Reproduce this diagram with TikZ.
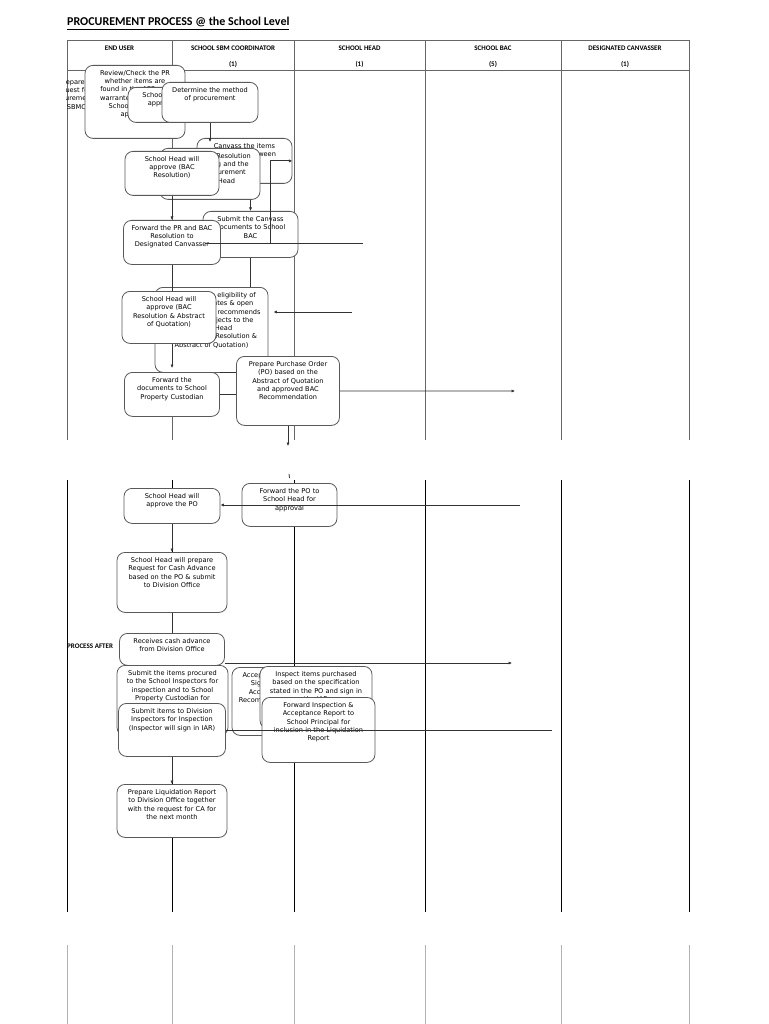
\documentclass[tikz,border=0pt]{standalone}
\usepackage{fontspec}
\setmainfont{Carlito}
\newfontfamily\boxfont{DejaVu Sans}
\usetikzlibrary{arrows.meta, positioning}

\begin{document}
\begin{tikzpicture}[
    x=1pt, y=-1pt,
    every node/.style = {inner sep=0pt},
    box/.style  = {rectangle, rounded corners=8pt, draw=black!65, line width=0.8pt,
                   fill=white, align=center, anchor=north, inner xsep=1pt,
                   inner ysep=4pt, text height=6pt,
                   font=\boxfont\fontsize{6.6}{8.3}\selectfont},
    head/.style = {font=\bfseries\fontsize{7}{9}\selectfont},
    col/.style  = {line width=0.8pt, black!60},
    colb/.style = {line width=0.9pt, black},
    colc/.style = {line width=0.8pt, black!30},
    line/.style = {line width=0.8pt, black!80},
    arr/.style  = {line, -{Latex[length=3.5pt, width=3.2pt]}}
  ]
  \useasboundingbox (0,0) rectangle (768,1024);

  % title and table
  \node[anchor=base west, font=\bfseries\fontsize{12}{14}\selectfont] (title) at (67,26)
    {\underline{PROCUREMENT PROCESS @ the School Level}};
  \draw[col] (67,40) -- (689,40);
  \draw[col] (67,70) -- (689,70);
  \foreach \x in {67,172,294,425,561,689}
    \draw[col] (\x,40) -- (\x,440);
  \foreach \x in {67,172,294,425,561,689}
    \draw[colb] (\x,480) -- (\x,912);
  \foreach \x in {67,172,294,425,561,689}
    \draw[colc] (\x,945) -- (\x,1024);

  \node[head] (hu) at (119.5,48) {END USER};
  \node[head] (hs) at (233,48) {SCHOOL SBM COORDINATOR};
  \node[head] (hh) at (359.5,48) {SCHOOL HEAD};
  \node[head] (hb) at (493,48) {SCHOOL BAC};
  \node[head] (hc) at (625,48) {DESIGNATED CANVASSER};
  \node[head] (ns) at (233,64) {(1)};
  \node[head] (nh) at (359.5,64) {(1)};
  \node[head] (nb) at (493,64) {(5)};
  \node[head] (nc) at (625,64) {(1)};

  % page one: boxes
  \begin{scope}
    \clip (66,66) rectangle (90,130);
    \node[font=\boxfont\fontsize{6.6}{8.3}\selectfont, align=center, anchor=north,
          text width=60, text height=6pt] (prep)
      at (72,78) {Prepare\\Request for\\procurement\\to SBMC};
  \end{scope}
  \node[box, text width=98, text depth=59] (rev) at (135,65)
    {Review/Check the PR\\whether items are\\found in the APP and\\warranted, submit to\\School Head for\\approval};
  \node[box, text width=68, text depth=21] (shappr) at (163,87) {School Head\\approves};
  \node[box, text width=94, text depth=26] (method) at (210,82) {Determine the method\\of procurement};
  \node[box, text width=93, text depth=31] (canvass) at (244.5,138)
    {Canvass the items\\to choose between\\suppliers};
  \node[box, text width=98, text depth=37] (bacres) at (210,148)
    {BAC prepares Resolution\\recommending and the\\mode of Procurement\\to School Head};
  \node[box, text width=92, text depth=30] (shres) at (172,151)
    {School Head will\\approve (BAC\\Resolution)};
  \node[box, text width=93, text depth=32] (subcanv) at (250.5,211)
    {Submit the Canvass\\documents to School\\BAC};
  \node[box, text width=95, text depth=30] (fwdpr) at (172,220)
    {Forward the PR and BAC\\Resolution to\\Designated Canvasser};
  \node[box, text width=111, text depth=71] (elig) at (211.5,287)
    {Determine the eligibility of\\of the candidates \& open\\quotations, BAC recommends\\\& submits projects to the\\School Head\\approval (BAC Resolution \&\\Abstract of Quotation)};
  \node[box, text width=92, text depth=38] (shabs) at (169,291)
    {School Head will\\approve (BAC\\Resolution \& Abstract\\of Quotation)};
  \node[box, text width=93, text depth=30] (fwddoc) at (172,372)
    {Forward the\\documents to School\\Property Custodian};
  \node[box, text width=101, text depth=55] (prepo) at (288,356)
    {Prepare Purchase Order\\(PO) based on the\\Abstract of Quotation\\and approved BAC\\Recommendation};

  % page one: links
  \draw[arr] (method) -- ([yshift=-4pt]method |- canvass.north);
  \draw[arr] (shres) -- (fwdpr);
  \draw[arr] (bacres.south -| subcanv) -- (subcanv.north);
  \coordinate (bacin) at (363,243);
  \coordinate (bacend) at (205,243);
  \draw[line] (bacin) -- (bacend);
  \draw[arr] ([xshift=-22pt]canvass.east |- bacin) |- (canvass.east);
  \draw[line] (subcanv) -- (subcanv |- elig.north);
  \draw[line] (fwdpr) -- (fwdpr |- shabs.north);
  \coordinate (elin) at (352,312);
  \draw[arr, shorten >=5pt] (elin) -- (elin -| elig.east);
  \draw[arr] (shabs.south -| fwddoc) -- ([yshift=4pt]fwddoc.north);
  \draw[line] (fwddoc.north east) -- (fwddoc.north east -| prepo.west);
  \draw[line] (fwddoc.east) -- (fwddoc.east -| prepo.west);
  \coordinate (poout) at (515,391);
  \draw[arr] (prepo) -- (poout);
  \coordinate (podown) at (288,446);
  \draw[arr] (prepo) -- (podown);

  % page two: boxes
  \node[box, text width=94, text depth=21] (shpo) at (172,488) {School Head will\\approve the PO};
  \node[box, text width=93, text depth=29] (fwdpo) at (289.5,483)
    {Forward the PO to\\School Head for\\approval};
  \node[box, text width=108, text depth=46] (reqca) at (172,552)
    {School Head will prepare\\Request for Cash Advance\\based on the PO \& submit\\to Division Office};
  \node[anchor=west, font=\bfseries\fontsize{7}{8}\selectfont] (after) at (67,646) {PROCESS AFTER};
  \node[box, text width=103, text depth=18] (rcvca) at (172,633)
    {Receives cash advance\\from Division Office};
  \node[box, text width=109, text depth=56] (subinsp) at (172.5,665)
    {Submit the items procured\\to the School Inspectors for\\inspection and to School\\Property Custodian for\\acceptance};
  \node[box, text width=94, text depth=54] (accept) at (280,667)
    {Acceptance of items \&\\Sign Inspection \&\\Acceptance Report\\Recommendation of BAC};
  \node[box, text width=110, text depth=48] (inspect) at (316,666)
    {Inspect items purchased\\based on the specification\\stated in the PO and sign in\\the IAR};
  \node[box, text width=105, text depth=39] (subdiv) at (172,703)
    {Submit items to Division\\Inspectors for Inspection\\(Inspector will sign in IAR)};
  \node[box, text width=111, text depth=51] (fwdiar) at (318.5,697)
    {Forward Inspection \&\\Acceptance Report to\\School Principal for\\inclusion in the Liquidation\\Report};
  \node[box, text width=108, text depth=39] (liq) at (172,784)
    {Prepare Liquidation Report\\to Division Office together\\with the request for CA for\\the next month};

  % page two: links
  \coordinate (poup) at (289,474);
  \draw[line] (poup) -- ([yshift=5pt]fwdpo.north);
  \coordinate (poin) at (520,505);
  \draw[arr] (poin) -- (poin -| shpo.east);
  \draw[arr] (shpo) -- (shpo |- reqca.north);
  \draw[line] (reqca) -- (reqca |- rcvca.north);
  \coordinate (caout) at (512,663);
  \draw[arr] (caout -| rcvca.east) -- (caout);
  \coordinate (iarout) at (552,730);
  \draw[line] (iarout -| subdiv.east) -- (iarout);
  \draw[arr] (subdiv) -- (subdiv |- liq.north);

\end{tikzpicture}
\end{document}
